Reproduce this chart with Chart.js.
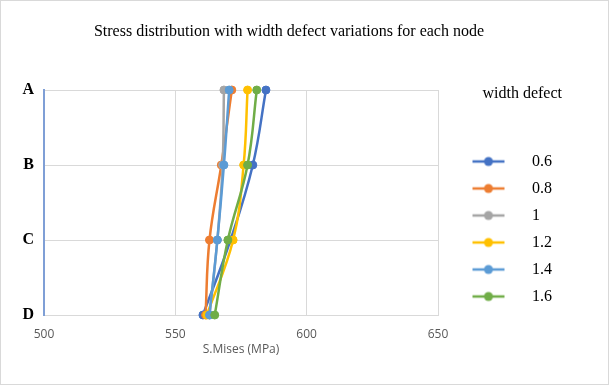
<!DOCTYPE html>
<html><head><meta charset="utf-8">
<script src="https://cdn.jsdelivr.net/npm/chart.js@4.4.1/dist/chart.umd.min.js"></script>
<style>
html,body{margin:0;padding:0;background:#fff;}
#wrap{position:relative;width:609px;height:385px;}
#frame{position:absolute;left:0;top:0;width:607px;height:383px;border:1px solid #d9d9d9;pointer-events:none;}
canvas{display:block;}
</style></head><body>
<div id="wrap"><canvas id="c" width="609" height="385"></canvas><div id="frame"></div></div>
<script>
// ---- data ----
const nodes = ['A', 'B', 'C', 'D'];
const seriesNames = ['0.6', '0.8', '1', '1.2', '1.4', '1.6'];
const s06 = [584.5, 579.5, 571, 560.5];
const s08 = [571.5, 567.5, 563, 561.5];
const s10 = [568.5, 568, 566, 563];
const s12 = [577.5, 576, 572, 562];
const s14 = [570.5, 568.5, 566, 563];
const s16 = [581, 577.5, 570, 565];
const xTicks = [500, 550, 600, 650];
const seriesValues = [s06, s08, s10, s12, s14, s16];

// ---- styles ----
const palette = ['#4472C4', '#ED7D31', '#A5A5A5', '#FFC000', '#5B9BD5', '#70AD47'];

function legendMarker(color) {
  const c = document.createElement('canvas');
  c.width = 64; c.height = 12;
  const g = c.getContext('2d');
  g.strokeStyle = color; g.lineWidth = 2.5;
  g.beginPath(); g.moveTo(18, 6); g.lineTo(50, 6); g.stroke();
  g.fillStyle = color;
  g.beginPath(); g.arc(34, 6, 4.5, 0, Math.PI * 2); g.fill();
  return c;
}
const markers = palette.map(legendMarker);

const datasets = seriesNames.map((name, i) => ({
  label: name,
  data: seriesValues[i],
  borderColor: palette[i],
  backgroundColor: palette[i],
  pointBackgroundColor: palette[i],
  pointBorderColor: palette[i],
  borderWidth: 2.5,
  pointRadius: 4,
  pointBorderWidth: 1,
  tension: 0.4,
  fill: false,
  clip: false,
  order: seriesNames.length - i
}));

new Chart(document.getElementById('c'), {
  type: 'line',
  data: { labels: nodes, datasets },
  options: {
    indexAxis: 'y',
    responsive: false,
    animation: false,
    layout: { padding: { top: 0, left: 16, right: 47, bottom: 10 } },
    plugins: {
      tooltip: { enabled: false },
      title: {
        display: true,
        text: 'Stress distribution with width defect variations for each node',
        color: '#000',
        font: { family: 'Liberation Serif', size: 16, weight: 'normal' },
        padding: { top: 22.5, bottom: 48.3 }
      },
      legend: {
        position: 'right',
        align: 'center',
        title: {
          display: true, text: 'width defect', position: 'end', color: '#000',
          font: { family: 'Liberation Serif', size: 16 },
          padding: { top: 26.5, bottom: 37.3 }
        },
        labels: {
          usePointStyle: true,
          pointStyleWidth: 75,
          padding: 11,
          color: '#000',
          font: { family: 'Liberation Serif', size: 16 },
          generateLabels(chart) {
            const items = Chart.defaults.plugins.legend.labels.generateLabels(chart);
            items.forEach(it => { it.pointStyle = markers[it.datasetIndex]; });
            return items.sort((a, b) => a.datasetIndex - b.datasetIndex);
          }
        }
      }
    },
    scales: {
      x: {
        type: 'linear', position: 'bottom',
        min: xTicks[0], max: xTicks[xTicks.length - 1],
        ticks: { stepSize: xTicks[1] - xTicks[0], padding: 12, color: '#595959', font: { family: 'Open Sans', size: 12 } },
        grid: { color: '#d9d9d9', drawTicks: false },
        border: { color: '#d9d9d9' },
        title: { display: true, text: 'S.Mises (MPa)', color: '#595959', font: { family: 'Open Sans', size: 12 }, padding: { top: 1, bottom: 18 } },
        afterFit(scale) { scale.height = 60; }
      },
      y: {
        type: 'category', offset: false,
        ticks: { padding: 10, color: '#000', font: { family: 'Liberation Serif', size: 16, weight: 'bold' } },
        grid: { color: '#d9d9d9', drawTicks: false },
        border: { color: '#7f9fd6', width: 2 },
        afterFit(scale) { scale.width = 28; }
      }
    }
  }
});
</script>
</body></html>
